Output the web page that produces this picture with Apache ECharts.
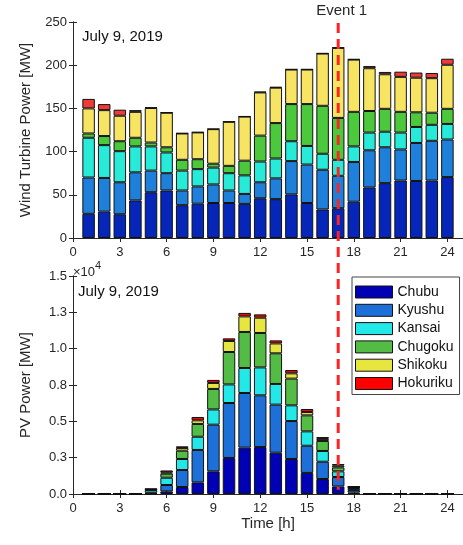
<!DOCTYPE html>
<html>
<head>
<meta charset="utf-8">
<script src="https://cdn.jsdelivr.net/npm/echarts/dist/echarts.min.js"></script>
<style>
html,body{margin:0;padding:0;background:#fff;}
#chart{width:463px;height:545px;}
</style>
</head>
<body>
<div id="chart"></div>
<script>
// ---------- data ----------
const hours = [1,2,3,4,5,6,7,8,9,10,11,12,13,14,15,16,17,18,19,20,21,22,23,24];
const regions = ['Chubu','Kyushu','Kansai','Chugoku','Shikoku','Hokuriku'];

// Wind turbine power [MW]
const windChubu    = [28, 30.5, 27.5, 43.5, 53, 55, 38, 39.7, 40.5, 40.5, 39.5, 46, 45, 50.5, 40.5, 33, 34.5, 42, 58.5, 63.5, 66.5, 66, 66.5, 70.5];
const windKyushu   = [42, 39, 37, 32.5, 25, 20, 17, 20, 21.5, 14.5, 11.5, 18.5, 24, 38.5, 44.5, 46, 37.5, 46, 43, 41.5, 36, 44, 46, 43.5];
const windKansai   = [46, 38, 36, 30, 28, 24, 23, 20, 19.5, 20, 21.5, 24, 23, 23, 21.5, 18.5, 18.5, 18, 20.5, 18, 19.5, 18.5, 18.5, 18];
const windChugoku  = [5, 10.5, 11.5, 10, 4.5, 6, 12.5, 11.5, 4.5, 8.5, 17, 30, 41, 43, 48.5, 55.5, 48.5, 40, 25, 26.5, 24, 17, 14, 17.5];
const windShikoku  = [29, 30, 29.5, 30, 40, 40, 30.5, 31, 40, 51, 51, 50, 41, 40, 40, 60.5, 81, 60.5, 49.5, 40, 40.5, 40, 40, 51];
const windHokuriku = [11, 7, 7, 2, 0.6, 0.3, 0.3, 0.3, 0.3, 0.3, 0.3, 0.8, 0.8, 0.3, 0.3, 0.3, 0.5, 0.5, 2.5, 2.7, 6, 6, 6, 7];

// PV power [MW] in units of 10^4
const pvChubu    = [0.002, 0.002, 0.002, 0.002, 0.003, 0.018, 0.048, 0.080, 0.156, 0.248, 0.319, 0.323, 0.284, 0.241, 0.145, 0.103, 0.052, 0.010, 0.002, 0.002, 0.002, 0.002, 0.002, 0.002];
const pvKyushu   = [0, 0, 0, 0, 0.006, 0.044, 0.117, 0.223, 0.321, 0.378, 0.376, 0.356, 0.331, 0.261, 0.187, 0.119, 0.065, 0.017, 0, 0, 0, 0, 0, 0];
const pvKansai   = [0, 0, 0, 0, 0.018, 0.050, 0.076, 0.091, 0.105, 0.128, 0.172, 0.192, 0.142, 0.108, 0.099, 0.074, 0.039, 0.014, 0, 0, 0, 0, 0, 0];
const pvChugoku  = [0, 0, 0, 0, 0.004, 0.028, 0.057, 0.088, 0.141, 0.223, 0.248, 0.237, 0.211, 0.184, 0.110, 0.069, 0.027, 0.005, 0, 0, 0, 0, 0, 0];
const pvShikoku  = [0, 0, 0, 0, 0.002, 0.009, 0.019, 0.025, 0.041, 0.076, 0.107, 0.105, 0.068, 0.036, 0.023, 0.014, 0.012, 0.003, 0, 0, 0, 0, 0, 0];
const pvHokuriku = [0, 0, 0, 0, 0.003, 0.013, 0.011, 0.023, 0.021, 0.018, 0.024, 0.023, 0.021, 0.023, 0.021, 0.013, 0.011, 0.003, 0, 0, 0, 0, 0, 0];

const xTicks = [0, 3, 6, 9, 12, 15, 18, 21, 24];
const windTicks = [0, 50, 100, 150, 200, 250];
const pvTicks = [0, 0.25, 0.5, 0.75, 1.0, 1.25, 1.5];
const eventHour = 17;
const dateLabel = 'July 9, 2019';

// ---------- styles ----------
const windColors = ['#0526B8', '#1F80DC', '#27EBD8', '#4CC83C', '#F7E463', '#F03A3A'];
const pvColors   = ['#0000B4', '#1E70D9', '#22E8E8', '#53BC45', '#E7E640', '#FF0000'];
const axisCol = '#262626';
const FONT = 'Liberation Sans, Arial, sans-serif';

const windData = [windChubu, windKyushu, windKansai, windChugoku, windShikoku, windHokuriku];
const pvData = [pvChubu, pvKyushu, pvKansai, pvChugoku, pvShikoku, pvHokuriku];

// hidden category axis spanning 0..25 (boundaryGap false) so hour h sits at h on the value axis
const xMax = 25;
const slots = Array.from({ length: xMax + 1 }, (_, i) => String(i));

function mkSeries(arrs, colors, xi, yi, stack) {
  return arrs.map((arr, k) => {
    const d = slots.map(() => null);
    hours.forEach((h, i) => { d[h] = arr[i]; });
    return {
      name: regions[k],
      type: 'bar',
      stack: stack,
      xAxisIndex: xi,
      yAxisIndex: yi,
      barWidth: 12.5,
      data: d,
      itemStyle: { color: colors[k], borderColor: '#111', borderWidth: 1 },
      emphasis: { disabled: true },
      animation: false
    };
  });
}

function xAx(grid, pos, showLabel, extra) {
  return Object.assign({
    type: 'value', gridIndex: grid, position: pos,
    min: 0, max: xMax, interval: 3,
    axisLine: { show: true, lineStyle: { color: axisCol, width: 1 } },
    axisTick: { show: true, inside: true, length: 4, lineStyle: { color: axisCol } },
    axisLabel: { show: showLabel, showMaxLabel: false, color: axisCol, fontSize: 13, fontFamily: FONT, margin: 8 },
    splitLine: { show: false }
  }, extra || {});
}
function catAx(grid) {
  return {
    type: 'category', gridIndex: grid, data: slots, boundaryGap: false,
    show: false
  };
}
function yAx(grid, pos, showLabel, min, max, interval, fmt, extra) {
  return Object.assign({
    type: 'value', gridIndex: grid, position: pos,
    min: min, max: max, interval: interval,
    axisLine: { show: true, lineStyle: { color: axisCol, width: 1 } },
    axisTick: { show: true, inside: true, length: 4, lineStyle: { color: axisCol } },
    axisLabel: { show: showLabel, color: axisCol, fontSize: 13, fontFamily: FONT, margin: 6, formatter: fmt },
    splitLine: { show: false }
  }, extra || {});
}

const chart = echarts.init(document.getElementById('chart'), null, { renderer: 'canvas' });

const option = {
  animation: false,
  backgroundColor: '#fff',
  textStyle: { fontFamily: FONT },
  grid: [
    { left: 73, top: 22, width: 390, height: 216 },
    { left: 73, top: 276, width: 390, height: 218 }
  ],
  xAxis: [
    xAx(0, 'bottom', true),
    xAx(0, 'top', false),
    xAx(1, 'bottom', true, { name: 'Time [h]', nameLocation: 'middle', nameGap: 22,
      nameTextStyle: { color: axisCol, fontSize: 15, fontFamily: FONT } }),
    xAx(1, 'top', false),
    catAx(0),
    catAx(1)
  ],
  yAxis: [
    yAx(0, 'left', true, windTicks[0], windTicks[windTicks.length - 1], 50, v => String(v),
      { name: 'Wind Turbine Power [MW]', nameLocation: 'middle', nameGap: 40,
        nameTextStyle: { color: axisCol, fontSize: 15, fontFamily: FONT } }),
    yAx(0, 'right', false, 0, 250, 50),
    yAx(1, 'left', true, pvTicks[0], pvTicks[pvTicks.length - 1], 0.25, v => v.toFixed(1),
      { name: 'PV Power [MW]', nameLocation: 'middle', nameGap: 40,
        nameTextStyle: { color: axisCol, fontSize: 15, fontFamily: FONT } }),
    yAx(1, 'right', false, 0, 1.5, 0.25)
  ],
  legend: {
    orient: 'vertical',
    left: 352, top: 277,
    padding: [7, 6, 3, 3],
    itemWidth: 37, itemHeight: 12,
    itemGap: 2.3,
    backgroundColor: '#fff',
    borderColor: '#444', borderWidth: 1, borderRadius: 0,
    selectedMode: false,
    icon: 'rect',
    textStyle: { color: '#111', fontSize: 14, fontFamily: FONT, lineHeight: 16 },
    data: regions.map((r, k) => ({ name: r, itemStyle: { color: pvColors[k], borderColor: '#111', borderWidth: 1 } }))
  },
  series: mkSeries(pvData, pvColors, 5, 2, 'pv').concat(mkSeries(windData, windColors, 4, 0, 'wind'))
};
chart.setOption(option);

// overlay text and event line positioned through the axes
const pTop = chart.convertToPixel({ xAxisIndex: 0, yAxisIndex: 0 }, [eventHour, 250]);
const pBot = chart.convertToPixel({ xAxisIndex: 2, yAxisIndex: 2 }, [eventHour, 0.03]);
const g0 = chart.convertToPixel({ xAxisIndex: 0, yAxisIndex: 0 }, [0, 250]);
const g1 = chart.convertToPixel({ xAxisIndex: 2, yAxisIndex: 2 }, [0, 1.5]);

chart.setOption({
  graphic: [
    { type: 'line', z: 100, silent: true,
      shape: { x1: pTop[0], y1: pTop[1] + 1, x2: pBot[0], y2: pBot[1] },
      style: { stroke: '#FF2424', lineWidth: 3, lineDash: [10, 6] } },
    { type: 'text', z: 100, left: pTop[0] - 22, top: 3,
      style: { text: 'Event 1', fill: axisCol, font: '15px ' + FONT } },
    { type: 'text', z: 100, left: g0[0] + 9, top: g0[1] + 7,
      style: { text: dateLabel, fill: '#111', font: '15px ' + FONT } },
    { type: 'text', z: 100, left: g1[0] + 5, top: g1[1] + 8,
      style: { text: dateLabel, fill: '#111', font: '15px ' + FONT } },
    { type: 'text', z: 100, left: g1[0], top: g1[1] - 16,
      style: { text: '{a|×10}{b|4}', fill: axisCol,
        rich: { a: { fontSize: 13, fontFamily: FONT, fill: axisCol, verticalAlign: 'bottom', padding: [6, 0, 0, 0] },
                b: { fontSize: 11, fontFamily: FONT, fill: axisCol, verticalAlign: 'top' } } } }
  ]
});
</script>
</body>
</html>
